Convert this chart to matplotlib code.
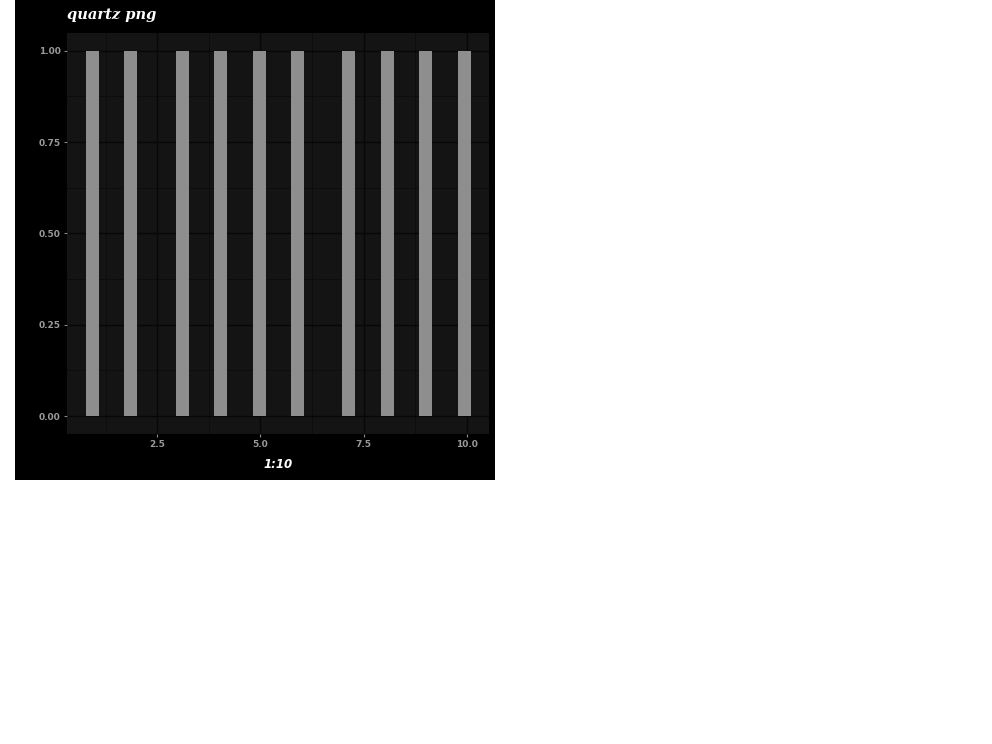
import matplotlib
matplotlib.use("Agg")
import matplotlib.pyplot as plt

# ---- data ----
bar_x = [0.93, 1.85, 3.11, 4.03, 4.97, 5.90, 7.13, 8.07, 9.00, 9.94]
bar_h = [1, 1, 1, 1, 1, 1, 1, 1, 1, 1]
x_ticks = [2.5, 5.0, 7.5, 10.0]
x_ticklabels = ["2.5", "5.0", "7.5", "10.0"]
x_minor = [1.25, 3.75, 6.25, 8.75]
y_ticks = [0.0, 0.25, 0.5, 0.75, 1.0]
y_ticklabels = ["0.00", "0.25", "0.50", "0.75", "1.00"]
y_minor = [0.125, 0.375, 0.625, 0.875]
title = "quartz png"
xlabel = "1:10"

W, H = 992, 744
fig = plt.figure(figsize=(W / 100, H / 100), dpi=100)
fig.patch.set_facecolor("white")

# black plot background region (480x480 at top-left, offset 15px)
bg = fig.add_axes([15 / W, 1 - 480 / H, 480 / W, 480 / H], zorder=0)
bg.set_facecolor("black")
bg.set_xticks([])
bg.set_yticks([])
for s in bg.spines.values():
    s.set_visible(False)

left, right = 66.7 / W, 489.0 / W
top, bottom = 1 - 32.5 / H, 1 - 434.3 / H
ax = fig.add_axes([left, bottom, right - left, top - bottom], zorder=1)
ax.set_facecolor("#141414")
for s in ax.spines.values():
    s.set_visible(False)

ax.set_xlim(0.303, 10.54)
ax.set_ylim(-0.05, 1.05)

# grid
for xv in x_minor:
    ax.axvline(xv, color="#0c0c0c", lw=0.6, zorder=1)
for yv in y_minor:
    ax.axhline(yv, color="#0c0c0c", lw=0.6, zorder=1)
for xv in x_ticks:
    ax.axvline(xv, color="#070707", lw=1.0, zorder=1)
for yv in y_ticks:
    ax.axhline(yv, color="#070707", lw=1.0, zorder=1)

ax.bar(bar_x, bar_h, width=0.315, color="#8e8e8e", zorder=2, linewidth=0)

ax.set_xticks(x_ticks)
ax.set_xticklabels(x_ticklabels)
ax.set_yticks(y_ticks)
ax.set_yticklabels(y_ticklabels)
ax.tick_params(axis="both", colors="#8a8a8a", length=2.2, width=0.8,
               pad=2.0, labelsize=6.5)
for lab in ax.get_xticklabels() + ax.get_yticklabels():
    lab.set_fontweight("bold")
    lab.set_color("#9a9a9a")

ax.set_xlabel(xlabel, color="white", fontsize=8.5, fontweight="bold",
              fontstyle="italic", labelpad=6.5)

fig.text(67 / W, 1 - 15 / H, title, color="white", fontsize=10.5,
         fontweight="bold", fontstyle="italic", family="DejaVu Serif",
         ha="left", va="center", zorder=3)

fig.savefig("out.png", dpi=100, facecolor=fig.get_facecolor())
